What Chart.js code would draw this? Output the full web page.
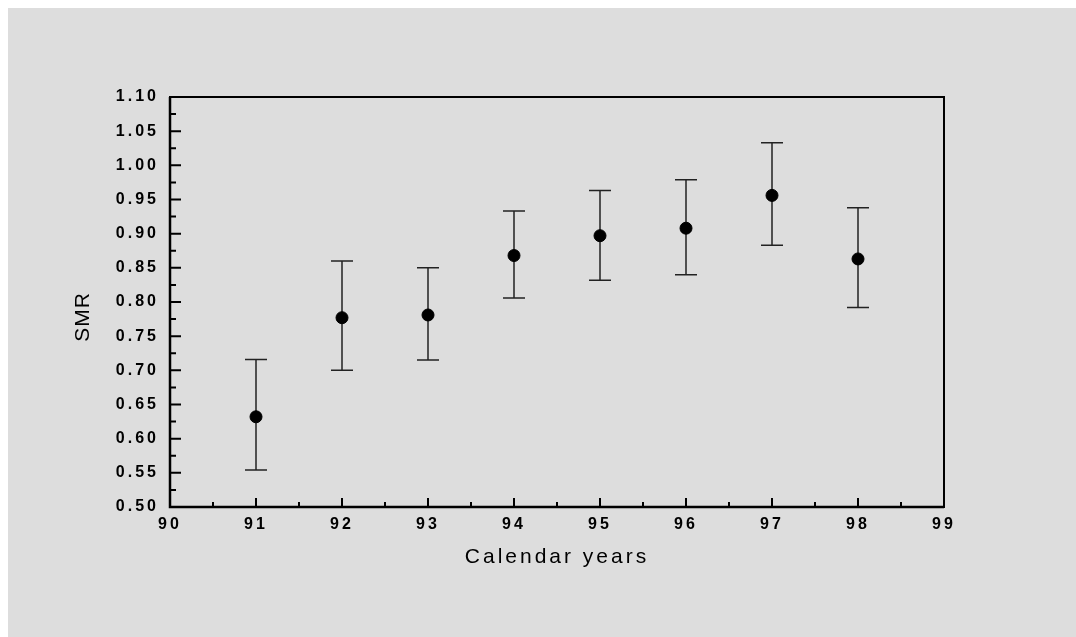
<!DOCTYPE html>
<html>
<head>
<meta charset="utf-8">
<script src="https://cdn.jsdelivr.net/npm/chart.js@4/dist/chart.umd.min.js"></script>
<style>
  html, body { margin: 0; padding: 0; background: #fff; }
  canvas { display: block; }
</style>
</head>
<body>
<canvas id="chart" width="1076" height="637"></canvas>
<script>
// calendar years (19xx) and SMR with its confidence limits
const years = [91, 92, 93, 94, 95, 96, 97, 98];
const smr = [0.632, 0.777, 0.781, 0.868, 0.897, 0.908, 0.956, 0.863];
const lower = [0.554, 0.700, 0.715, 0.806, 0.832, 0.840, 0.883, 0.792];
const upper = [0.716, 0.860, 0.850, 0.933, 0.963, 0.979, 1.033, 0.938];

const xTicks = [90, 91, 92, 93, 94, 95, 96, 97, 98, 99];
const yTicks = [0.50, 0.55, 0.60, 0.65, 0.70, 0.75, 0.80, 0.85, 0.90, 0.95, 1.00, 1.05, 1.10];

const yTitle = 'SMR';
const points = years.map((y, i) => ({ x: y, y: smr[i] }));

// gray panel, frame, inward tick marks and error bars
const decor = {
  id: 'decor',
  beforeDraw(chart) {
    const ctx = chart.ctx;
    ctx.save();
    ctx.fillStyle = '#ffffff';
    ctx.fillRect(0, 0, chart.width, chart.height);
    ctx.fillStyle = '#dddddd';
    ctx.fillRect(8, 8, chart.width - 8, chart.height - 8);
    ctx.restore();
    ctx.letterSpacing = '3px';
  },
  beforeDatasetsDraw(chart) {
    const ctx = chart.ctx;
    const xs = chart.scales.x, ys = chart.scales.y;
    const a = chart.chartArea;
    ctx.save();
    ctx.strokeStyle = '#000';
    ctx.lineWidth = 2;
    ctx.strokeRect(a.left, a.top, a.right - a.left, a.bottom - a.top);
    ctx.beginPath();
    ctx.lineWidth = 2.5;
    ctx.moveTo(a.left, a.top); ctx.lineTo(a.left, a.bottom); ctx.lineTo(a.right, a.bottom);
    ctx.stroke();
    ctx.lineWidth = 2;
    ctx.beginPath();
    // y ticks: major at labels, minor in between
    for (let i = 0; i < yTicks.length; i++) {
      const py = ys.getPixelForValue(yTicks[i]);
      ctx.moveTo(a.left, py); ctx.lineTo(a.left + 11, py);
      if (i < yTicks.length - 1) {
        const pm = ys.getPixelForValue((yTicks[i] + yTicks[i + 1]) / 2);
        ctx.moveTo(a.left, pm); ctx.lineTo(a.left + 6, pm);
      }
    }
    for (let i = 0; i < xTicks.length; i++) {
      const px = xs.getPixelForValue(xTicks[i]);
      ctx.moveTo(px, a.bottom); ctx.lineTo(px, a.bottom - 9);
      if (i < xTicks.length - 1) {
        const pm = xs.getPixelForValue((xTicks[i] + xTicks[i + 1]) / 2);
        ctx.moveTo(pm, a.bottom); ctx.lineTo(pm, a.bottom - 5);
      }
    }
    ctx.stroke();

    // error bars
    ctx.strokeStyle = '#222';
    ctx.lineWidth = 1.5;
    ctx.beginPath();
    years.forEach((yr, i) => {
      const px = xs.getPixelForValue(yr);
      const pl = ys.getPixelForValue(lower[i]);
      const pu = ys.getPixelForValue(upper[i]);
      ctx.moveTo(px, pl); ctx.lineTo(px, pu);
      ctx.moveTo(px - 11, pu); ctx.lineTo(px + 11, pu);
      ctx.moveTo(px - 11, pl); ctx.lineTo(px + 11, pl);
    });
    ctx.stroke();
    ctx.restore();
  },
  afterDraw(chart) {
    // y axis title sits a little below the plot's middle in the original
    const ctx = chart.ctx;
    const a = chart.chartArea;
    ctx.save();
    ctx.letterSpacing = '1px';
    ctx.font = '21px "Liberation Sans", Arial, sans-serif';
    ctx.fillStyle = '#000';
    ctx.translate(83, (a.top + a.bottom) / 2 + 15);
    ctx.rotate(-Math.PI / 2);
    ctx.textAlign = 'center';
    ctx.textBaseline = 'middle';
    ctx.fillText(yTitle, 0, 0);
    ctx.restore();
  }
};

new Chart(document.getElementById('chart'), {
  type: 'scatter',
  data: {
    datasets: [{
      label: 'SMR',
      data: points,
      backgroundColor: '#000',
      borderColor: '#000',
      pointRadius: 6,
      pointHoverRadius: 6
    }]
  },
  options: {
    responsive: false,
    animation: false,
    devicePixelRatio: 1,
    layout: { padding: { left: 0, top: 97, right: 132, bottom: 0 } },
    plugins: { legend: { display: false }, tooltip: { enabled: false } },
    scales: {
      x: {
        type: 'linear',
        min: 90, max: 99,
        afterFit: (s) => { s.height = 130; },
        afterBuildTicks: (s) => { s.ticks = xTicks.map(v => ({ value: v })); },
        grid: { display: false, drawTicks: false },
        border: { display: false },
        ticks: {
          color: '#000',
          padding: 8,
          font: { family: '"Liberation Sans", Arial, sans-serif', size: 16, weight: 'bold' },
          callback: (v) => String(v)
        },
        title: {
          display: true,
          text: 'Calendar years',
          color: '#000',
          font: { family: '"Liberation Sans", Arial, sans-serif', size: 21 },
          padding: { top: 0, bottom: 67 }
        }
      },
      y: {
        type: 'linear',
        min: 0.5, max: 1.1,
        afterFit: (s) => { s.width = 170; },
        afterBuildTicks: (s) => { s.ticks = yTicks.map(v => ({ value: v })); },
        grid: { display: false, drawTicks: false },
        border: { display: false },
        ticks: {
          color: '#000',
          padding: 11,
          font: { family: '"Liberation Sans", Arial, sans-serif', size: 16, weight: 'bold' },
          callback: (v) => Number(v).toFixed(2)
        },
        title: { display: false, text: yTitle }
      }
    }
  },
  plugins: [decor]
});
</script>
</body>
</html>
